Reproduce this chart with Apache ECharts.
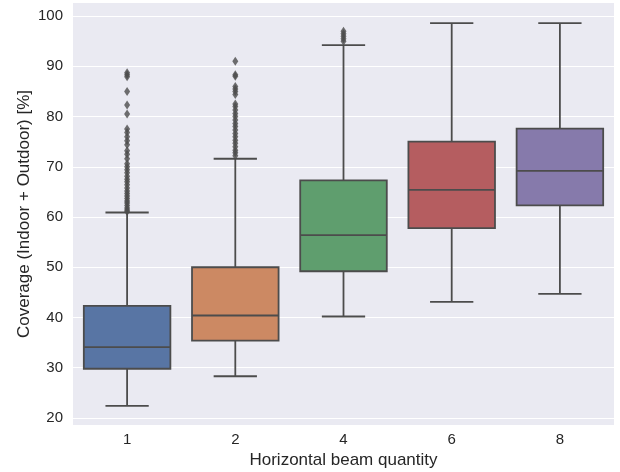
<!DOCTYPE html>
<html>
<head>
<meta charset="utf-8">
<script src="https://cdn.jsdelivr.net/npm/echarts@6/dist/echarts.min.js"></script>
<style>html,body{margin:0;padding:0;background:#fff;}#c{width:620px;height:472px;}</style>
</head>
<body>
<div id="c"></div>
<script>
const categories = ['1', '2', '4', '6', '8'];
const whiskerLow = [22.4, 28.3, 40.2, 43.1, 44.7];
const q1 = [29.8, 35.4, 49.2, 57.8, 62.3];
const median = [34.1, 40.4, 56.4, 65.4, 69.2];
const q3 = [42.3, 50.0, 67.3, 75.0, 77.6];
const whiskerHigh = [60.9, 71.6, 94.2, 98.6, 98.6];
const outliers1 = [88.7, 88.3, 87.9, 85.0, 82.3, 80.5, 77.5, 76.8, 76.0, 75.2, 74.4, 73.2, 72.5, 71.6, 70.6, 70.0, 69.4, 68.8, 68.1, 67.5, 67.0, 66.4, 65.8, 65.2, 64.7, 64.2, 63.7, 63.2, 62.8, 62.3, 61.8, 61.4, 61.1];
const outliers2 = [91.0, 88.3, 88.0, 86.0, 85.5, 85.0, 84.4, 82.5, 82.0, 81.3, 80.6, 80.0, 79.3, 78.6, 78.0, 77.3, 76.6, 76.0, 75.3, 74.7, 74.0, 73.3, 72.8, 72.2];
const outliers4 = [97.0, 96.5, 96.0, 95.5, 95.0];
const boxColors = ['#5875a4', '#cc8963', '#5f9e6e', '#b55d60', '#867aab'];
const yTicks = [20, 30, 40, 50, 60, 70, 80, 90, 100];

const lineColor = '#4c4c4c';
const textColor = '#262626';
const font = '"Liberation Sans", Arial, sans-serif';

const boxData = categories.map((c, i) => [i, whiskerLow[i], q1[i], median[i], q3[i], whiskerHigh[i]]);
const outlierData = [];
outliers1.forEach(v => outlierData.push([0, v]));
outliers2.forEach(v => outlierData.push([1, v]));
outliers4.forEach(v => outlierData.push([2, v]));

const chart = echarts.init(document.getElementById('c'), null, {renderer: 'canvas'});
chart.setOption({
  animation: false,
  backgroundColor: '#ffffff',
  grid: {left: 73, right: 6, top: 3, bottom: 47, show: true, backgroundColor: '#eaeaf2', borderWidth: 0,
    outerBoundsMode: 'none', containLabel: false},
  xAxis: {
    type: 'category',
    data: categories,
    boundaryGap: true,
    name: 'Horizontal beam quantity',
    nameLocation: 'middle',
    nameGap: 27,
    nameMoveOverlap: false,
    nameTextStyle: {fontFamily: font, fontSize: 17, color: textColor},
    axisLine: {show: false},
    axisTick: {show: false},
    axisLabel: {fontFamily: font, fontSize: 15, color: textColor, margin: 7},
    splitLine: {show: false}
  },
  yAxis: {
    type: 'value',
    min: 18.6,
    max: 102.6,
    splitNumber: 8,
    name: 'Coverage (Indoor + Outdoor) [%]',
    nameLocation: 'middle',
    nameGap: 40,
    nameMoveOverlap: false,
    nameTextStyle: {fontFamily: font, fontSize: 17, color: textColor},
    axisLine: {show: false},
    axisTick: {show: false},
    axisLabel: {
      fontFamily: font, fontSize: 15, color: textColor, margin: 10,
      showMinLabel: false, showMaxLabel: false,
      formatter: v => (yTicks.indexOf(Math.round(v * 1000) / 1000) >= 0 ? String(v) : '')
    },
    splitLine: {show: true, showMinLine: false, showMaxLine: false, lineStyle: {color: '#ffffff', width: 1.2}}
  },
  series: [
    {
      type: 'custom',
      data: boxData,
      encode: {x: 0, y: [1, 2, 3, 4, 5]},
      renderItem: function (params, api) {
        const idx = api.value(0);
        const lo = api.coord([idx, api.value(1)]);
        const b1 = api.coord([idx, api.value(2)]);
        const md = api.coord([idx, api.value(3)]);
        const b3 = api.coord([idx, api.value(4)]);
        const hi = api.coord([idx, api.value(5)]);
        const band = api.size([1, 0])[0];
        const bw = band * 0.8;
        const cw = bw / 2;
        const x = lo[0];
        const ls = {stroke: lineColor, lineWidth: 1.8};
        return {
          type: 'group',
          children: [
            {type: 'line', shape: {x1: x, y1: b1[1], x2: x, y2: lo[1]}, style: ls},
            {type: 'line', shape: {x1: x, y1: b3[1], x2: x, y2: hi[1]}, style: ls},
            {type: 'line', shape: {x1: x - cw / 2, y1: lo[1], x2: x + cw / 2, y2: lo[1]}, style: ls},
            {type: 'line', shape: {x1: x - cw / 2, y1: hi[1], x2: x + cw / 2, y2: hi[1]}, style: ls},
            {type: 'rect', shape: {x: x - bw / 2, y: b3[1], width: bw, height: b1[1] - b3[1]},
              style: {fill: boxColors[idx], stroke: lineColor, lineWidth: 1.8}},
            {type: 'line', shape: {x1: x - bw / 2, y1: md[1], x2: x + bw / 2, y2: md[1]}, style: ls}
          ]
        };
      },
      z: 2
    },
    {
      type: 'scatter',
      data: outlierData,
      symbol: 'diamond',
      symbolSize: [6, 9],
      itemStyle: {color: lineColor},
      z: 3
    }
  ]
});
</script>
</body>
</html>
